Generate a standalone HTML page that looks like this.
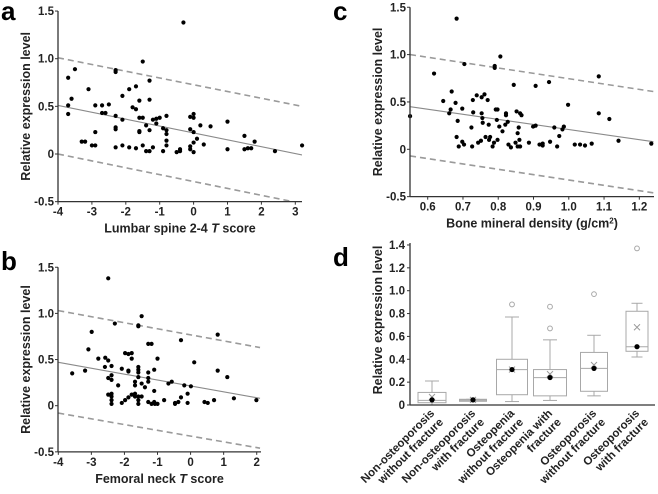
<!DOCTYPE html>
<html><head><meta charset="utf-8"><style>
html,body{margin:0;padding:0;background:#fff;}
svg{display:block;font-family:"Liberation Sans",Arial,sans-serif;}
.tk{font-size:11.5px;font-weight:bold;fill:#222;}
.tt{font-size:12.5px;font-weight:bold;fill:#222;}
.lt{font-size:26px;font-weight:bold;fill:#000;}
</style></head><body>
<svg id="fig" width="658" height="494" viewBox="0 0 658 494"></svg>
<script>
// ---- panel a data ----
const aX=[-3.7,-3.5,-3.7,-3.6,-3.7,-3.3,-3.2,-3.1,-2.9,-2.9,-3.0,-2.9,-2.7,-2.7,-2.6,-2.5,-2.3,-2.3,-2.3,-2.3,-2.3,-2.3,-2.1,-2.1,-2.1,-1.9,-1.9,-1.8,-1.7,-1.7,-1.7,-1.6,-1.6,-1.6,-1.6,-1.5,-1.5,-1.5,-1.4,-1.4,-1.3,-1.3,-1.3,-1.3,-1.2,-1.2,-1.1,-1.1,-1.0,-0.9,-0.9,-0.8,-0.8,-0.8,-0.8,-0.8,-0.5,-0.4,-0.4,-0.3,-0.1,-0.1,-0.1,-0.1,0.0,0.0,0.0,0.0,0.0,0.1,0.2,0.3,0.5,1.0,1.0,1.5,1.5,1.6,1.7,1.8,2.4,3.2];
const aY=[0.80,0.89,0.51,0.58,0.42,0.13,0.13,0.68,0.51,0.23,0.09,0.09,0.51,0.43,0.43,0.52,0.88,0.86,0.40,0.28,0.26,0.07,0.61,0.36,0.09,0.68,0.07,0.49,0.71,0.47,0.06,0.56,0.38,0.24,0.23,0.97,0.38,0.09,0.30,0.03,0.03,0.77,0.57,0.25,0.36,0.07,0.37,0.32,0.38,0.27,0.03,0.40,0.25,0.21,0.14,0.09,0.02,0.03,0.05,1.38,0.39,0.26,0.08,0.05,0.42,0.38,0.23,0.12,0.02,0.16,0.30,0.10,0.29,0.34,0.05,0.19,0.05,0.06,0.06,0.13,0.03,0.09];
const aFitX=[-4,3.2];
const aFit=[0.51,-0.01];
const aUpper=[1.01,0.50];
const aLower=[0.0,-0.52];
const aXTicks=[-4,-3,-2,-1,0,1,2,3];
const aXTickLabels=["-4","-3","-2","-1","0","1","2","3"];
// ---- panel b data ----
const bX=[-3.58,-3.19,-3.09,-2.99,-2.79,-2.59,-2.58,-2.49,-2.49,-2.49,-2.49,-2.39,-2.39,-2.39,-2.39,-2.39,-2.39,-2.39,-2.29,-2.19,-2.08,-2.08,-1.98,-1.98,-1.88,-1.88,-1.88,-1.88,-1.78,-1.78,-1.78,-1.68,-1.68,-1.68,-1.68,-1.58,-1.58,-1.58,-1.58,-1.58,-1.58,-1.58,-1.58,-1.58,-1.48,-1.48,-1.48,-1.38,-1.28,-1.28,-1.28,-1.28,-1.28,-1.18,-1.18,-1.10,-1.10,-1.10,-1.08,-1.00,-1.00,-0.80,-0.67,-0.57,-0.47,-0.47,-0.37,-0.29,-0.29,-0.19,-0.09,-0.09,0.01,0.11,0.42,0.52,0.71,0.82,0.82,1.11,1.31,1.99];
const bY=[0.35,0.38,0.61,0.80,0.51,0.42,0.52,1.38,0.49,0.30,0.12,0.43,0.28,0.33,0.13,0.10,0.06,0.02,0.89,0.22,0.40,0.03,0.57,0.06,0.56,0.38,0.37,0.09,0.57,0.51,0.12,0.26,0.22,0.13,0.10,0.87,0.86,0.42,0.39,0.36,0.31,0.10,0.06,0.02,0.97,0.24,0.10,0.20,0.67,0.36,0.26,0.30,0.04,0.67,0.02,0.39,0.16,0.04,0.02,0.51,0.02,0.06,0.24,0.26,0.03,0.02,0.04,0.71,0.09,0.22,0.13,0.03,0.21,0.47,0.04,0.03,0.06,0.77,0.38,0.31,0.08,0.06];
const bFitX=[-4,2.1];
const bFit=[0.47,0.08];
const bUpper=[1.03,0.63];
const bLower=[-0.08,-0.46];
const bXTicks=[-4,-3,-2,-1,0,1,2];
const bXTickLabels=["-4","-3","-2","-1","0","1","2"];
// ---- panel c data ----
const cX=[0.55,0.618,0.644,0.661,0.665,0.668,0.679,0.682,0.685,0.688,0.698,0.698,0.704,0.703,0.724,0.726,0.728,0.729,0.739,0.743,0.751,0.753,0.753,0.755,0.756,0.761,0.764,0.770,0.773,0.774,0.777,0.784,0.788,0.790,0.790,0.793,0.798,0.796,0.798,0.803,0.806,0.812,0.820,0.822,0.822,0.827,0.829,0.836,0.844,0.849,0.852,0.855,0.855,0.858,0.860,0.862,0.862,0.866,0.887,0.899,0.906,0.906,0.917,0.926,0.926,0.947,0.944,0.959,0.967,0.973,0.982,0.986,0.998,1.017,1.032,1.046,1.065,1.085,1.085,1.115,1.141,1.234,0.682];
const cY=[0.35,0.80,0.51,0.38,0.42,0.61,0.49,0.13,0.30,0.03,0.43,0.08,0.90,0.05,0.23,0.03,0.52,0.39,0.57,0.07,0.09,0.38,0.55,0.33,0.28,0.58,0.13,0.52,0.26,0.10,0.13,0.03,0.07,0.88,0.86,0.42,0.42,0.31,0.10,0.24,0.98,0.19,0.26,0.38,0.36,0.29,0.05,0.02,0.68,0.07,0.40,0.17,0.03,0.23,0.10,0.03,0.38,0.36,0.07,0.24,0.25,0.67,0.05,0.04,0.06,0.08,0.71,0.23,0.03,0.14,0.21,0.24,0.47,0.05,0.05,0.04,0.06,0.77,0.38,0.32,0.09,0.06,1.38];
const cFitX=[0.55,1.24];
const cFit=[0.45,0.08];
const cUpper=[1.0,0.61];
const cLower=[-0.07,-0.46];
const cXTicks=[0.6,0.7,0.8,0.9,1.0,1.1,1.2];
const cXTickLabels=["0.6","0.7","0.8","0.9","1.0","1.1","1.2"];
const scYTicks=[-0.5,0,0.5,1.0,1.5];
const scYTickLabels=["-0.5","0","0.5","1.0","1.5"];
// ---- panel d data ----
const dCatsLine1=["Non-osteoporosis","Non-osteoporosis","Osteopenia","Osteopenia with","Osteoporosis","Osteoporosis"];
const dCatsLine2=["without fracture","with fracture","without fracture","fracture","without fracture","with fracture"];
const dWhiskLo=[0.0,0.04,0.03,0.04,0.08,0.42];
const dQ1=[0.02,0.04,0.09,0.08,0.12,0.47];
const dMedian=[0.04,0.045,0.31,0.24,0.32,0.51];
const dQ3=[0.11,0.05,0.40,0.31,0.46,0.82];
const dWhiskHi=[0.21,0.05,0.77,0.57,0.61,0.89];
const dMean=[0.07,0.045,0.31,0.27,0.35,0.68];
const dDot=[0.045,0.045,0.31,0.24,0.32,0.51];
const dOutliers=[[],[],[0.88],[0.67,0.86],[0.97],[1.37]];
const dYTicks=[0,0.2,0.4,0.6,0.8,1.0,1.2,1.4];
const dYTickLabels=["0","0.2","0.4","0.6","0.8","1.0","1.2","1.4"];

const NS="http://www.w3.org/2000/svg";
const svg=document.getElementById('fig');
function mk(tag,attrs,parent,text){const e=document.createElementNS(NS,tag);for(const k in attrs)e.setAttribute(k,attrs[k]);if(text!==undefined)e.textContent=text;(parent||svg).appendChild(e);return e;}

function scatterPanel(p){
  const g=mk('g',{});
  
  
  const sx=v=>p.x0+(v-p.xv0)*p.xk, sy=v=>p.y0-v*p.yk;
  const left=p.axisX, right=p.axisR, bot=sy(-0.5), top=sy(1.5);
  const cid='clip'+p.id;
  const cp=mk('clipPath',{id:cid},g);
  mk('rect',{x:left,y:top-5,width:right-left,height:bot-top+5},cp);
  const lines=mk('g',{'clip-path':'url(#'+cid+')'},g);
  const up=mk('line',{x1:sx(p.fx[0]),y1:sy(p.up[0]),x2:sx(p.fx[1]),y2:sy(p.up[1]),stroke:'#9a9a9a','stroke-width':1.6,'stroke-dasharray':'6,4'},lines);
  
  
  const lo=mk('line',{x1:sx(p.fx[0]),y1:sy(p.lo[0]),x2:sx(p.fx[1]),y2:sy(p.lo[1]),stroke:'#9a9a9a','stroke-width':1.6,'stroke-dasharray':'6,4'},lines);
  
  
  const fit=mk('line',{x1:sx(p.fx[0]),y1:sy(p.fit[0]),x2:sx(p.fx[1]),y2:sy(p.fit[1]),stroke:'#8a8a8a','stroke-width':1.1},lines);
  
  
  for(let i=0;i<p.xs.length;i++){
    const c=mk('circle',{cx:sx(p.xs[i]),cy:sy(p.ys[i]),r:2.1,fill:'#000'},g);
    
    
  }
  const ya=mk('line',{x1:left,y1:top,x2:left,y2:bot,stroke:'#333','stroke-width':1.3},g);
  
  
  const xa=mk('line',{x1:left,y1:bot,x2:right,y2:bot,stroke:'#333','stroke-width':1.3},g);
  
  
  scYTicks.forEach((v,i)=>{
    mk('line',{x1:left-3,y1:sy(v),x2:left,y2:sy(v),stroke:'#333','stroke-width':1},g);
    const t=mk('text',{x:left-4,y:sy(v)+4,'text-anchor':'end',class:'tk'},g,scYTickLabels[i]);
    
    
  });
  p.xt.forEach((v,i)=>{
    mk('line',{x1:sx(v),y1:bot,x2:sx(v),y2:bot+3,stroke:'#333','stroke-width':1},g);
    const t=mk('text',{x:sx(v),y:bot+14,'text-anchor':'middle',class:'tk'},g,p.xtl[i]);
    
    
  });
  const yt=mk('text',{x:0,y:0,'text-anchor':'middle',class:'tt',transform:'translate('+(left-28)+','+((top+bot)/2)+') rotate(-90)'},g,'Relative expression level');
  
  
  const xt=mk('text',{x:(left+right)/2,y:bot+31,'text-anchor':'middle',class:'tt'},g);
  
  
  xt.innerHTML=p.xtitle;
  const L=mk('text',{x:p.lx,y:p.ly,class:'lt'},g,p.letter);
  
  
}

scatterPanel({id:'a',name:'panel-a-scatter',letter:'a',lx:1,ly:20,x0:58,xv0:-4,xk:33.9,y0:154,yk:95.3,axisX:58,axisR:302,xs:aX,ys:aY,fx:aFitX,fit:aFit,up:aUpper,lo:aLower,xt:aXTicks,xtl:aXTickLabels,xtitle:'Lumbar spine 2-4 <tspan font-style="italic">T</tspan> score'});
scatterPanel({id:'b',name:'panel-b-scatter',letter:'b',lx:1,ly:270,x0:58.3,xv0:-4,xk:33.07,y0:405.7,yk:92.3,axisX:58,axisR:261,xs:bX,ys:bY,fx:bFitX,fit:bFit,up:bUpper,lo:bLower,xt:bXTicks,xtl:bXTickLabels,xtitle:'Femoral neck <tspan font-style="italic">T</tspan> score'});
scatterPanel({id:'c',name:'panel-c-scatter',letter:'c',lx:333,ly:20,x0:427.7,xv0:0.6,xk:352.7,y0:149.3,yk:94.7,axisX:410,axisR:654,xs:cX,ys:cY,fx:cFitX,fit:cFit,up:cUpper,lo:cLower,xt:cXTicks,xtl:cXTickLabels,xtitle:'Bone mineral density (g/cm<tspan baseline-shift="super" font-size="8">2</tspan>)'});

// ---- panel d ----
(function(){
  const g=mk('g',{});
  
  
  const left=410,right=655,y0=405,yk=114.3;
  const sy=v=>y0-v*yk;
  const cx=[432,473,512,550,594,637];
  const bw=[28,27,31,33,27,22];
  const grey='#a8a8a8';
  const L=mk('text',{x:333,y:266,class:'lt'},g,'d');
  
  
  for(let i=0;i<cx.length;i++){
    const bg=mk('g',{},g);
    
    
    const x=cx[i],w=bw[i],cw=Math.min(14,w*0.5);
    mk('line',{x1:x,y1:sy(dWhiskHi[i]),x2:x,y2:sy(dQ3[i]),stroke:grey,'stroke-width':1},bg);
    mk('line',{x1:x,y1:sy(dWhiskLo[i]),x2:x,y2:sy(dQ1[i]),stroke:grey,'stroke-width':1},bg);
    mk('line',{x1:x-cw/2,y1:sy(dWhiskHi[i]),x2:x+cw/2,y2:sy(dWhiskHi[i]),stroke:grey,'stroke-width':1},bg);
    mk('line',{x1:x-cw/2,y1:sy(dWhiskLo[i]),x2:x+cw/2,y2:sy(dWhiskLo[i]),stroke:grey,'stroke-width':1},bg);
    const h=Math.max(sy(dQ1[i])-sy(dQ3[i]),2);
    mk('rect',{x:x-w/2,y:sy(dQ3[i]),width:w,height:h,fill:i===1?'#bbb':'none',stroke:grey,'stroke-width':1},bg);
    mk('line',{x1:x-w/2,y1:sy(dMedian[i]),x2:x+w/2,y2:sy(dMedian[i]),stroke:grey,'stroke-width':1},bg);
    const m=sy(dMean[i]);
    mk('path',{d:'M'+(x-3)+','+(m-3)+'L'+(x+3)+','+(m+3)+'M'+(x+3)+','+(m-3)+'L'+(x-3)+','+(m+3),stroke:'#999','stroke-width':1},bg);
    dOutliers[i].forEach(o=>{
      const oc=mk('circle',{cx:x,cy:sy(o),r:2.4,fill:'#fff',stroke:grey,'stroke-width':1},bg);
      
      
    });
    const d=mk('circle',{cx:x,cy:sy(dDot[i]),r:2.6,fill:'#000'},bg);
    
    
    const lg=mk('g',{transform:'translate('+(x+3)+',414) rotate(-45)'},g);
    
    
    mk('text',{x:0,y:0,'text-anchor':'end',class:'tk'},lg,dCatsLine1[i]);
    mk('text',{x:0,y:12.5,'text-anchor':'end',class:'tk'},lg,dCatsLine2[i]);
  }
  const ya=mk('line',{x1:left,y1:sy(1.4)-2,x2:left,y2:y0,stroke:'#333','stroke-width':1.3},g);
  
  
  const xa=mk('line',{x1:left,y1:y0,x2:right,y2:y0,stroke:'#333','stroke-width':1.3},g);
  
  
  dYTicks.forEach((v,i)=>{
    mk('line',{x1:left-3,y1:sy(v),x2:left,y2:sy(v),stroke:'#333','stroke-width':1},g);
    const t=mk('text',{x:left-5,y:sy(v)+4,'text-anchor':'end',class:'tk'},g,dYTickLabels[i]);
    
    
  });
  const yt=mk('text',{x:0,y:0,'text-anchor':'middle',class:'tt',transform:'translate(382,320) rotate(-90)'},g,'Relative expression level');
  
  
})();
</script>
</body></html>
